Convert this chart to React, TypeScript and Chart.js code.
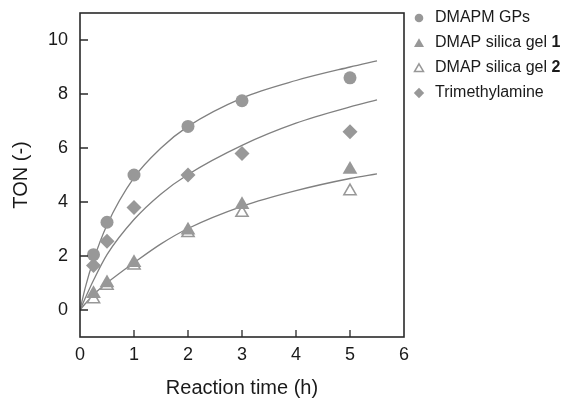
import React, { useEffect, useRef } from "react";
import { Chart, registerables } from "chart.js";

Chart.register(...registerables);

// ---- data ----
const times = [0.25, 0.5, 1, 2, 3, 5];
const dmapmGPs = [2.05, 3.25, 5.0, 6.8, 7.75, 8.6];
const dmapSilica1 = [0.6, 1.0, 1.75, 2.95, 3.9, 5.2];
const dmapSilica2 = [0.4, 0.9, 1.65, 2.85, 3.6, 4.4];
const trimethylamine = [1.65, 2.55, 3.8, 5.0, 5.8, 6.6];

// fitted curves
const fitTimes = [0, 0.1, 0.25, 0.5, 1, 1.5, 2, 3, 4, 5, 5.5];
const fitGPs = [0, 0.85, 1.85, 3.15, 4.9, 6.0, 6.8, 7.85, 8.5, 9.0, 9.23];
const fitTrimethylamine = [0, 0.45, 1.1, 2.05, 3.35, 4.3, 5.02, 6.1, 6.92, 7.52, 7.78];
const fitSilica = [0, 0.24, 0.57, 1.0, 1.75, 2.45, 3.02, 3.84, 4.42, 4.87, 5.04];

const xTicks = [0, 1, 2, 3, 4, 5, 6];
const yTicks = [0, 2, 4, 6, 8, 10];

const legendLabels = ["DMAPM GPs", "DMAP silica gel ", "DMAP silica gel ", "Trimethylamine"];
const legendBold = ["", "1", "2", ""];

const FONT = "'Liberation Sans', Arial, Helvetica, sans-serif";
const MARK = "rgb(152,152,152)";
const LINE = "rgb(128,128,128)";
const AXIS = "#2a2a2a";

const pts = (xs: number[], ys: number[]) => xs.map((x, i) => ({ x, y: ys[i] }));

function drawShape(ctx: CanvasRenderingContext2D, kind: string, x: number, y: number, r: number) {
  ctx.beginPath();
  if (kind === "circle") {
    ctx.arc(x, y, r, 0, Math.PI * 2);
  } else if (kind === "triangle" || kind === "openTriangle") {
    for (let k = 0; k < 3; k++) {
      const a = (k * 2 * Math.PI) / 3;
      const px = x + Math.sin(a) * r;
      const py = y - Math.cos(a) * r;
      if (k === 0) ctx.moveTo(px, py);
      else ctx.lineTo(px, py);
    }
    ctx.closePath();
  } else {
    ctx.moveTo(x, y - r);
    ctx.lineTo(x + r, y);
    ctx.lineTo(x, y + r);
    ctx.lineTo(x - r, y);
    ctx.closePath();
  }
  if (kind === "openTriangle") {
    ctx.fillStyle = "#fff";
    ctx.fill();
    ctx.lineWidth = 1.5;
    ctx.strokeStyle = MARK;
    ctx.stroke();
  } else {
    ctx.fillStyle = MARK;
    ctx.fill();
  }
}

const framePlugin = {
  id: "frameTicks",
  afterDatasetsDraw(chart: any) {
    const { ctx, chartArea } = chart;
    const { left, right, top, bottom } = chartArea;
    const xs = chart.scales.x;
    const ys = chart.scales.y;
    ctx.save();
    ctx.strokeStyle = AXIS;
    ctx.lineWidth = 1.6;
    ctx.strokeRect(left, top, right - left, bottom - top);
    ctx.lineWidth = 1.3;
    ctx.beginPath();
    xTicks.forEach((v) => {
      if (v === xTicks[0] || v === xTicks[xTicks.length - 1]) return;
      const px = xs.getPixelForValue(v);
      ctx.moveTo(px, bottom);
      ctx.lineTo(px, bottom - 7);
    });
    yTicks.forEach((v) => {
      const py = ys.getPixelForValue(v);
      ctx.moveTo(left, py);
      ctx.lineTo(left + 8, py);
    });
    ctx.stroke();
    ctx.restore();
  },
};

const legendPlugin = {
  id: "customLegend",
  afterDraw(chart: any) {
    const { ctx, chartArea } = chart;
    const kinds = ["circle", "triangle", "openTriangle", "diamond"];
    const sizes = [4.3, 5.8, 5.2, 5.2];
    const mx = chartArea.right + 15;
    const tx = chartArea.right + 31;
    ctx.save();
    ctx.textBaseline = "middle";
    ctx.textAlign = "left";
    legendLabels.forEach((label, i) => {
      const y = 18 + i * 25;
      drawShape(ctx, kinds[i], mx, y + (kinds[i].includes("riangle") ? 1 : 0), sizes[i]);
      ctx.fillStyle = "#1a1a1a";
      ctx.font = `16px ${FONT}`;
      ctx.fillText(label, tx, y);
      if (legendBold[i]) {
        const w = ctx.measureText(label).width;
        ctx.font = `bold 16px ${FONT}`;
        ctx.fillText(legendBold[i], tx + w, y);
      }
    });
    ctx.restore();
  },
};

export default function App() {
  const canvasRef = useRef<HTMLCanvasElement | null>(null);

  useEffect(() => {
    document.body.style.margin = "0";
    const canvas = canvasRef.current;
    if (!canvas) return;
    const fitLine = (ys: number[]) => ({
      type: "line" as const,
      data: pts(fitTimes, ys),
      borderColor: LINE,
      borderWidth: 1.3,
      pointRadius: 0,
      showLine: true,
      fill: false,
      cubicInterpolationMode: "monotone" as const,
    });
    const chart = new Chart(canvas, {
      type: "scatter",
      data: {
        datasets: [
          {
            label: "DMAPM GPs",
            data: pts(times, dmapmGPs),
            pointStyle: "circle",
            pointRadius: 6.5,
            backgroundColor: MARK,
            borderColor: MARK,
            borderWidth: 0,
          },
          {
            label: "DMAP silica gel 1",
            data: pts(times, dmapSilica1),
            pointStyle: "triangle",
            pointRadius: 8.5,
            backgroundColor: MARK,
            borderColor: MARK,
            borderWidth: 0,
          },
          {
            label: "DMAP silica gel 2",
            data: pts(times, dmapSilica2),
            pointStyle: "triangle",
            pointRadius: 7,
            backgroundColor: "#ffffff",
            borderColor: MARK,
            borderWidth: 1.6,
          },
          {
            label: "Trimethylamine",
            data: pts(times, trimethylamine),
            pointStyle: "rectRot",
            pointRadius: 7.5,
            backgroundColor: MARK,
            borderColor: MARK,
            borderWidth: 0,
          },
          fitLine(fitGPs),
          fitLine(fitTrimethylamine),
          fitLine(fitSilica),
        ] as any,
      },
      options: {
        responsive: false,
        animation: false,
        events: [],
        layout: { padding: { left: 0, top: 13, right: 165, bottom: 0 } },
        plugins: { legend: { display: false }, tooltip: { enabled: false } },
        scales: {
          x: {
            type: "linear",
            min: 0,
            max: 6,
            afterBuildTicks: (s: any) => {
              s.ticks = xTicks.map((v) => ({ value: v }));
            },
            afterFit: (s: any) => {
              s.height = 62;
              s.paddingLeft = 0;
              s.paddingRight = 0;
            },
            grid: { display: false, drawTicks: false },
            border: { display: false },
            ticks: {
              font: { family: FONT, size: 18 },
              color: "#1a1a1a",
              padding: 7,
              maxRotation: 0,
              autoSkip: false,
            },
            title: {
              display: true,
              text: "Reaction time (h)",
              font: { family: FONT, size: 20 },
              color: "#1a1a1a",
              padding: { top: 0, bottom: -1 },
            },
          },
          y: {
            type: "linear",
            min: -1,
            max: 11,
            afterBuildTicks: (s: any) => {
              s.ticks = yTicks.map((v) => ({ value: v }));
            },
            afterFit: (s: any) => {
              s.width = 80;
              s.paddingTop = 0;
              s.paddingBottom = 0;
            },
            grid: { display: false, drawTicks: false },
            border: { display: false },
            ticks: {
              font: { family: FONT, size: 18 },
              color: "#1a1a1a",
              padding: 12,
              autoSkip: false,
            },
            title: {
              display: true,
              text: "TON (-)",
              font: { family: FONT, size: 20 },
              color: "#1a1a1a",
              padding: { top: 9, bottom: 0 },
            },
          },
        },
      } as any,
      plugins: [framePlugin, legendPlugin],
    });
    return () => chart.destroy();
  }, []);

  return (
    <div style={{ position: "fixed", left: 0, top: 0, width: 569, height: 399 }}>
      <canvas ref={canvasRef} width={569} height={399} style={{ display: "block" }} />
    </div>
  );
}
